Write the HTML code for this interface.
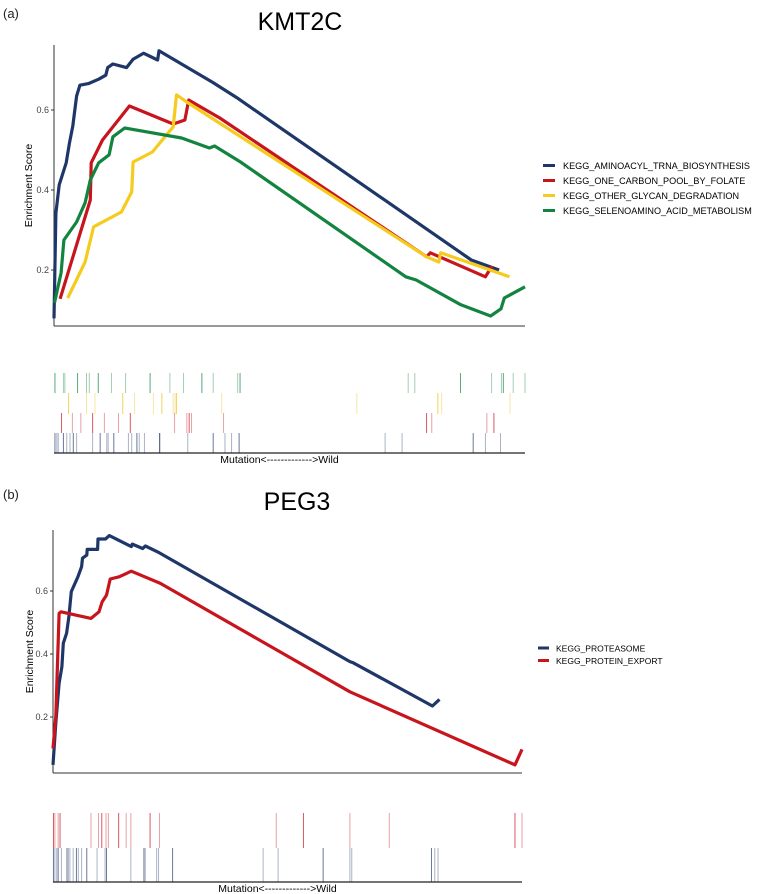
<!DOCTYPE html>
<html><head><meta charset="utf-8"><style>
html,body{margin:0;padding:0;background:#fff;}
svg{display:block;font-family:"Liberation Sans",Arial,sans-serif;}
</style></head><body>
<svg id="fig" width="760" height="894" viewBox="0 0 760 894" xmlns="http://www.w3.org/2000/svg">
<text x="3" y="18" font-size="13" fill="#222">(a)</text>
<text x="300" y="30" font-size="25" text-anchor="middle" fill="#000">KMT2C</text>
<text x="3" y="499" font-size="13" fill="#222">(b)</text>
<text x="297" y="510" font-size="25" text-anchor="middle" fill="#000">PEG3</text>
</svg>
<script>
// ---------- Panel A data (x = gene rank 0..1000, y = enrichment score) ----------
const aBlueX=[0,4,11,26,33,40,48,55,73,95,110,114,125,154,168,190,220,223,337,388,886,945];
const aBlueY=[0.079,0.342,0.413,0.468,0.518,0.560,0.635,0.662,0.666,0.677,0.687,0.706,0.715,0.706,0.727,0.742,0.725,0.748,0.669,0.631,0.225,0.200];
const aRedX=[13,77,79,103,160,253,278,286,352,791,799,916,930];
const aRedY=[0.128,0.375,0.468,0.525,0.610,0.565,0.575,0.625,0.580,0.233,0.243,0.183,0.210];
const aYelX=[29,66,84,143,165,168,209,253,260,282,791,817,821,967];
const aYelY=[0.130,0.220,0.308,0.345,0.395,0.470,0.495,0.558,0.638,0.620,0.233,0.220,0.243,0.183];
const aGrnX=[1,15,21,48,66,77,95,117,125,150,271,330,341,396,747,769,864,927,949,956,1000];
const aGrnY=[0.118,0.193,0.275,0.320,0.368,0.425,0.468,0.488,0.533,0.555,0.530,0.505,0.510,0.470,0.183,0.175,0.113,0.085,0.103,0.130,0.158];
const aTicks=[0.2,0.4,0.6];
const aNames=["KEGG_AMINOACYL_TRNA_BIOSYNTHESIS","KEGG_ONE_CARBON_POOL_BY_FOLATE","KEGG_OTHER_GLYCAN_DEGRADATION","KEGG_SELENOAMINO_ACID_METABOLISM"];
const aRugGreen=[2,20,23,50,69,75,94,122,152,204,246,275,314,338,390,395,752,766,863,929,950,954,975,1000];
const aRugYellow=[31,69,87,146,171,211,229,253,257,260,356,643,815,823,968];
const aRugRed=[16,39,57,82,107,137,162,256,282,287,292,360,791,802,919,934];
const aRugBlue=[2,6,9,20,27,34,41,48,82,98,112,115,127,158,165,176,181,192,224,225,284,338,363,377,393,703,739,890,916,948];
// ---------- Panel B data ----------
const bBlueX=[0,6,13,19,22,29,34,39,53,61,63,72,73,95,96,112,120,167,169,191,197,226,633,640,809,824];
const bBlueY=[0.048,0.180,0.307,0.360,0.434,0.466,0.519,0.598,0.645,0.677,0.704,0.714,0.732,0.732,0.765,0.765,0.776,0.741,0.749,0.735,0.743,0.722,0.376,0.372,0.235,0.256];
const bRedX=[0,6,13,17,81,98,105,114,122,141,167,229,633,985,1000];
const bRedY=[0.100,0.201,0.529,0.534,0.513,0.534,0.566,0.587,0.638,0.645,0.663,0.624,0.280,0.048,0.097];
const bTicks=[0.2,0.4,0.6];
const bNames=["KEGG_PROTEASOME","KEGG_PROTEIN_EXPORT"];
const bRugRed=[1,4,11,15,81,97,104,113,118,140,156,166,207,227,476,534,633,717,985,1000];
const bRugBlue=[1,4,8,11,18,29,32,36,43,50,54,61,72,94,111,114,166,193,196,221,225,255,448,480,576,633,637,807,814,821];

const NS="http://www.w3.org/2000/svg";
const svg=document.getElementById('fig');
function mk(tag,attrs,parent){const e=document.createElementNS(NS,tag);for(const k in attrs)e.setAttribute(k,attrs[k]);(parent||svg).appendChild(e);return e;}
const COL={blue:"#1f3768",red:"#c8141c",yellow:"#f5cb1d",green:"#138440"};

function panel(cfg){
  const g=mk('g',{});
  
  
  const sx=v=>cfg.x0+(cfg.x1-cfg.x0)*v/1000;
  const sy=v=>cfg.yRef-(v-0.2)*cfg.pxPer;
  const ya=mk('line',{x1:cfg.x0,y1:cfg.yTop,x2:cfg.x0,y2:cfg.yBot,stroke:"#333","stroke-width":1},g);
  
  const xa=mk('line',{x1:cfg.x0,y1:cfg.yBot,x2:cfg.x1,y2:cfg.yBot,stroke:"#333","stroke-width":1},g);
  
  cfg.ticks.forEach(t=>{
    const y=sy(t);
    mk('line',{x1:cfg.x0-3,y1:y,x2:cfg.x0,y2:y,stroke:"#333","stroke-width":1},g);
    const tl=mk('text',{x:cfg.x0-5,y:y+3,"font-size":9,"text-anchor":"end",fill:"#444"},g);
    tl.textContent=t.toFixed(1);
    
  });
  const cy=(cfg.yTop+cfg.yBot)/2;
  const yt=mk('text',{x:cfg.ytx,y:cy,"font-size":10.5,"text-anchor":"middle",fill:"#000",transform:`rotate(-90 ${cfg.ytx} ${cy})`},g);
  yt.textContent="Enrichment Score";
  
  cfg.series.forEach(s=>{
    const pts=s.x.map((xv,i)=>sx(xv).toFixed(1)+','+sy(s.y[i]).toFixed(1)).join(' ');
    const pl=mk('polyline',{points:pts,fill:"none",stroke:s.c,"stroke-width":3.2,"stroke-linejoin":"round"},g);
    
  });
  cfg.names.forEach((nm,i)=>{
    const y=cfg.legY+i*cfg.legStep;
    const ll=mk('line',{x1:cfg.legX,y1:y,x2:cfg.legX+cfg.legW,y2:y,stroke:cfg.series[i].c,"stroke-width":3},g);
    
    const lt=mk('text',{x:cfg.legX+cfg.legW+cfg.legGap,y:y+3.3,"font-size":cfg.legFs,fill:"#000"},g);
    lt.textContent=nm;
    
  });
  const rx=v=>cfg.rx0+(cfg.rx1-cfg.rx0)*v/1000;
  cfg.rugs.forEach(r=>{
    r.p.forEach((v,i)=>{
      const x=rx(v);
      const ln=mk('line',{x1:x,y1:r.y0,x2:x,y2:r.y1,stroke:r.c,"stroke-width":1,"stroke-opacity":(i%3===0?0.7:0.4)},g);
      
    });
  });
  const ra=mk('line',{x1:cfg.rx0,y1:cfg.rAxis,x2:cfg.rx1,y2:cfg.rAxis,stroke:"#222","stroke-width":1.2},g);
  
  const xl=mk('text',{x:(cfg.rx0+cfg.rx1)/2-10,y:cfg.rAxis+10,"font-size":10.5,"text-anchor":"middle",fill:"#000"},g);
  xl.textContent="Mutation<------------->Wild";
  
}

panel({id:"kmt2c",x0:54,x1:525,yTop:45,yBot:326,yRef:270,pxPer:400,ticks:aTicks,ytx:32,
  series:[{x:aBlueX,y:aBlueY,c:COL.blue,n:"aminoacyl"},{x:aRedX,y:aRedY,c:COL.red,n:"one-carbon"},{x:aYelX,y:aYelY,c:COL.yellow,n:"glycan"},{x:aGrnX,y:aGrnY,c:COL.green,n:"selenoamino"}],
  names:aNames,legX:543,legW:12,legGap:8,legY:165.5,legStep:15,legFs:9.1,
  rx0:54,rx1:525,rAxis:453,
  rugs:[{p:aRugGreen,c:COL.green,y0:373,y1:393,n:"selenoamino"},{p:aRugYellow,c:"#e8c21a",y0:393,y1:414,n:"glycan"},{p:aRugRed,c:COL.red,y0:413,y1:433,n:"one-carbon"},{p:aRugBlue,c:"#2a3f70",y0:433,y1:453,n:"aminoacyl"}]});

panel({id:"peg3",x0:53,x1:522,yTop:530,yBot:773,yRef:717,pxPer:315,ticks:bTicks,ytx:33,
  series:[{x:bBlueX,y:bBlueY,c:COL.blue,n:"proteasome"},{x:bRedX,y:bRedY,c:COL.red,n:"protein-export"}],
  names:bNames,legX:538,legW:11,legGap:7,legY:648,legStep:12.5,legFs:8.5,
  rx0:53,rx1:522,rAxis:882,
  rugs:[{p:bRugRed,c:COL.red,y0:813,y1:848,n:"protein-export"},{p:bRugBlue,c:"#2a3f70",y0:848,y1:882,n:"proteasome"}]});
</script>
</body></html>
